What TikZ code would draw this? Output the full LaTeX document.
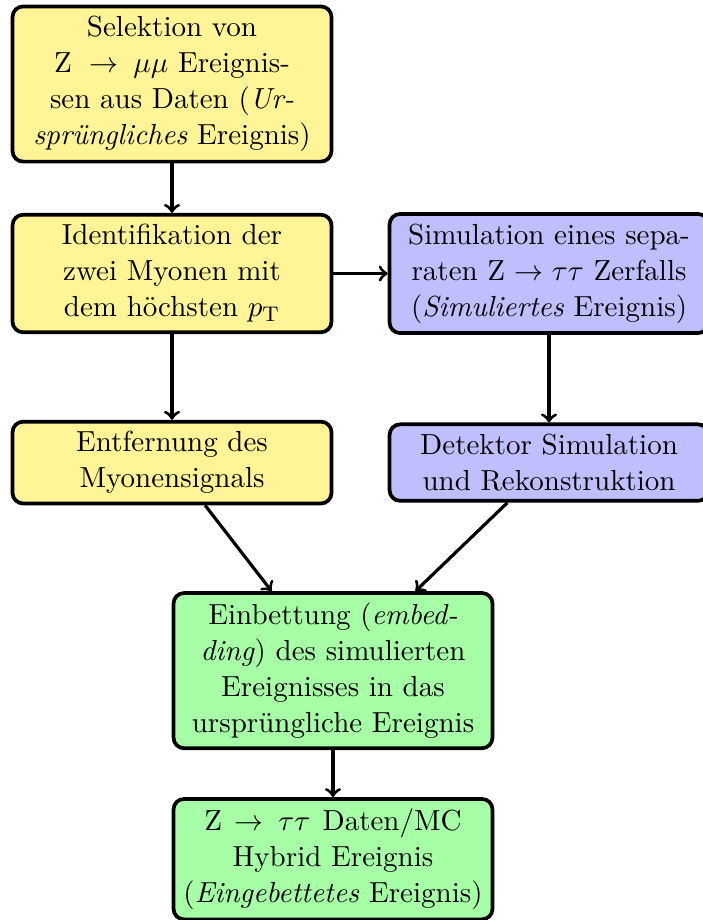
\documentclass[tikz,border=0pt,11pt]{standalone}
\usepackage{amsmath}
\usepackage{amssymb}
\usepackage{tikz}

\definecolor{gelb}{RGB}{255,245,150}
\definecolor{blau}{RGB}{191,191,255}
\definecolor{gruen}{RGB}{166,255,166}

\begin{document}
\begin{tikzpicture}[
  kasten/.style={draw, line width=1.4pt, rounded corners, align=center, minimum width=4.23cm}, % alle Boxen
  daten/.style={kasten, fill=gelb},  % Daten
  simu/.style={kasten, fill=blau},   % Simulation
  misch/.style={kasten, fill=gruen}, % Hybrid
  pfeil/.style={->, very thick}
]
\useasboundingbox (0,0) rectangle (9.31,-12.20); % Rahmen

\node[daten] (sel) at (2.281,-1.114) {Selektion von\\Z\hspace{3pt} $\rightarrow$\hspace{2pt} $\mu\mu$ Ereignis-\\sen aus Daten (\textit{Ur-}\\\textit{sprüngliches} Ereignis)};
\node[daten] (ident) at (2.281,-3.627) {Identifikation der\\zwei Myonen mit\\dem höchsten $p_\mathrm{T}$};
\node[simu] (sim) at (7.281,-3.627) {Simulation eines sepa-\\raten Z $\rightarrow\tau\tau$ Zerfalls\\(\textit{Simuliertes} Ereignis)};
\node[daten] (entf) at (2.281,-6.134) {Entfernung des\\Myonensignals};
\node[simu] (det) at (7.281,-6.134) {Detektor Simulation\\und Rekonstruktion};
\node[misch] (einb) at (4.416,-8.893) {Einbettung (\textit{embed-}\\\textit{ding}) des simulierten\\Ereignisses in das\\ursprüngliche Ereignis};
\node[misch] (hyb) at (4.416,-11.393) {Z\hspace{1pt} $\rightarrow$\hspace{2pt} $\tau\tau$\hspace{1pt} Daten/MC\\Hybrid Ereignis\\(\textit{Eingebettetes} Ereignis)};

% Pfeile
\draw[pfeil] (sel) -- (ident);
\draw[pfeil] (ident) -- (sim);
\draw[pfeil] (ident) -- (entf);
\draw[pfeil] (sim) -- (det);
\draw[pfeil] (entf) -- (einb);
\draw[pfeil] (det) -- (einb);
\draw[pfeil] (einb) -- (hyb);
\end{tikzpicture}
\end{document}
